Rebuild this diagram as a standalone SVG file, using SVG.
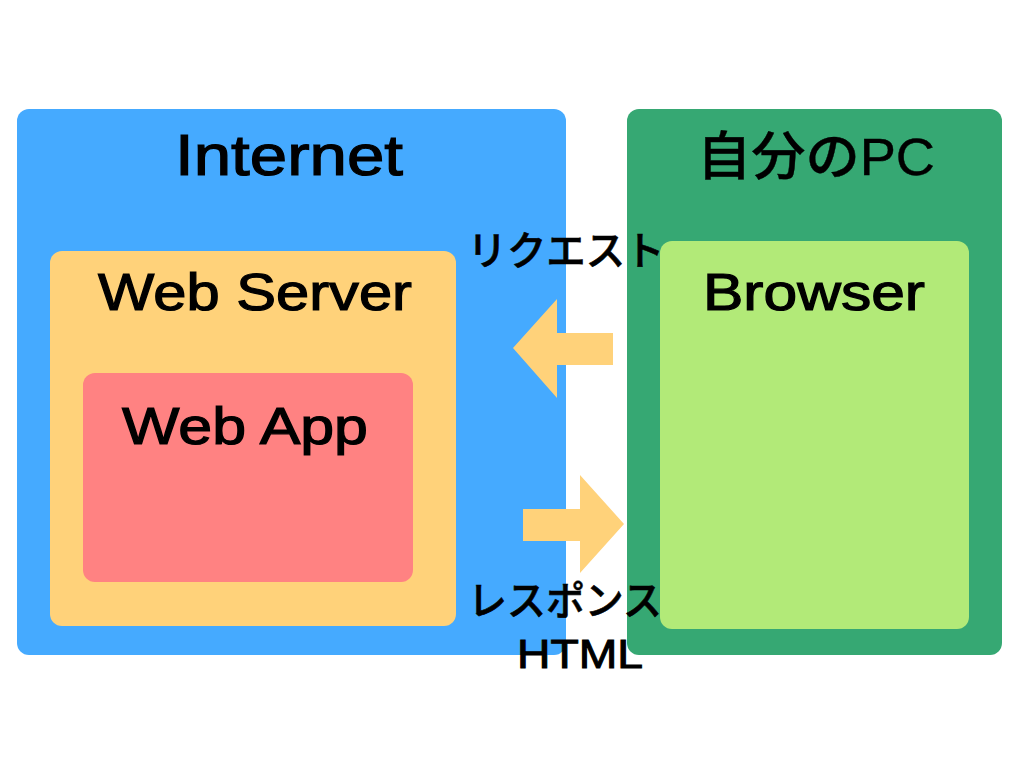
<svg xmlns="http://www.w3.org/2000/svg" width="1024" height="768" viewBox="0 0 1024 768">
<style>
text{font-family:"Liberation Sans","Noto Sans CJK JP",sans-serif;fill:#000;stroke:#000;stroke-width:1.2px;text-anchor:middle}
.t{font-size:58px}
.s{font-size:52px}
.pc{font-size:52px;stroke-width:0.4px;font-weight:500}
.j{font-size:40px;stroke-width:0.6px;font-weight:500}
.h{font-size:40px;stroke-width:1px}
.arrow{fill:#FFD27A}
</style>
<rect width="1024" height="768" fill="#fff"/>
<g id="internet">
<rect x="17" y="109" width="549" height="546" rx="12" fill="#45AAFF"/>
<text class="t" x="289" y="175" textLength="228" lengthAdjust="spacingAndGlyphs">Internet</text>
</g>
<g id="mypc">
<rect x="627" y="109" width="375" height="546" rx="12" fill="#36A873"/>
<text class="pc" x="816" y="175" textLength="238" lengthAdjust="spacingAndGlyphs">自分のPC</text>
</g>
<g id="webserver">
<rect x="50" y="251" width="406" height="375" rx="12" fill="#FFD27A"/>
<text class="s" x="255" y="310" textLength="314" lengthAdjust="spacingAndGlyphs">Web Server</text>
</g>
<g id="webapp">
<rect x="83" y="373" width="330" height="209" rx="12" fill="#FF8282"/>
<text class="s" x="245" y="444" textLength="246" lengthAdjust="spacingAndGlyphs">Web App</text>
</g>
<g id="browser">
<rect x="660" y="241" width="309" height="388" rx="12" fill="#B2EA78"/>
<text class="s" x="814" y="310" textLength="222" lengthAdjust="spacingAndGlyphs">Browser</text>
</g>
<g id="connectors">
<polygon class="arrow" points="613,333 557,333 557,299 513,348 557,398 557,365 613,365"/>
<polygon class="arrow" points="523,509 580,509 580,475 624,524 580,573 580,541 523,541"/>
<text class="j" x="566" y="265" textLength="197" lengthAdjust="spacingAndGlyphs">リクエスト</text>
<text class="j" x="565" y="615" textLength="194" lengthAdjust="spacingAndGlyphs">レスポンス</text>
<text class="h" x="580" y="668" textLength="126" lengthAdjust="spacingAndGlyphs">HTML</text>
</g>
</svg>
